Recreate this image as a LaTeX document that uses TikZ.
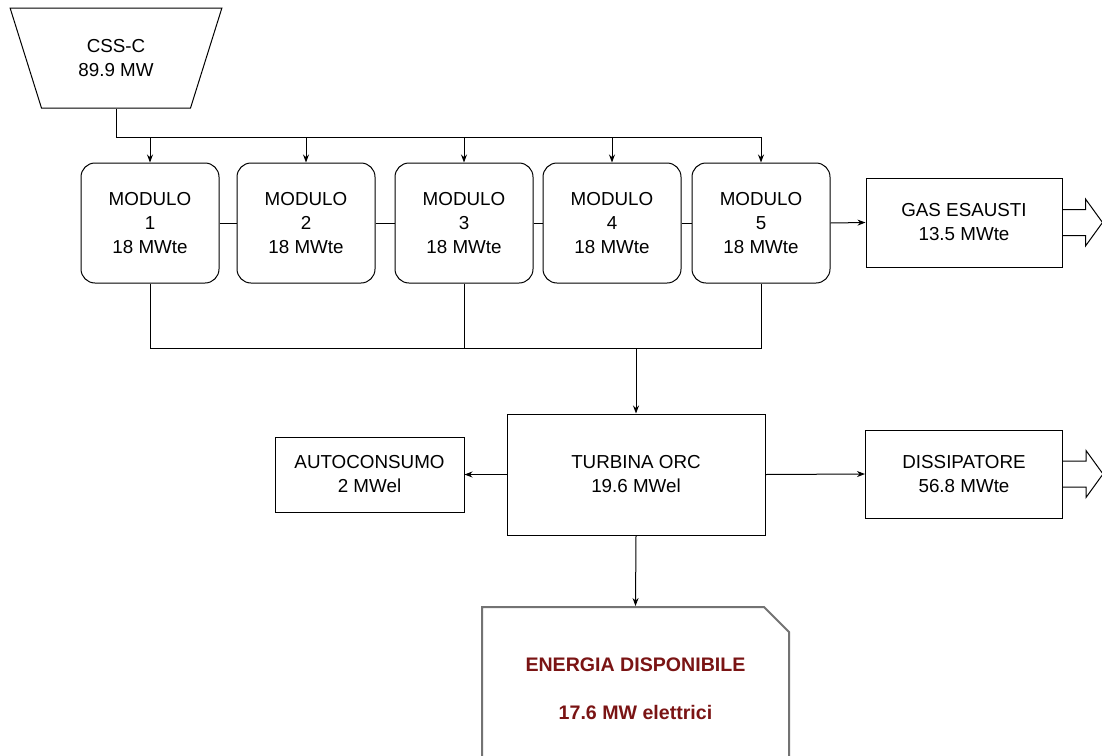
\documentclass[tikz,border=0pt]{standalone}
\usepackage{fontspec}
\setmainfont{Liberation Sans}
\usetikzlibrary{shapes.geometric,shapes.misc,arrows.meta,calc}
\definecolor{energy-red}{HTML}{7A1414}
\tikzset{
    module-box/.style = {draw, rectangle, rounded corners=7pt, minimum width=69pt, minimum height=60pt, align=center, inner sep=2pt},
    plain-box/.style = {draw, rectangle, align=center, inner sep=2pt},
    source-box/.style = {draw, trapezium, trapezium left angle=67, trapezium right angle=67, shape border rotate=180, trapezium stretches=true, minimum width=106pt, minimum height=50pt, align=center, inner sep=0pt},
    energy-box/.style = {draw=black!55, line width=1pt, chamfered rectangle, chamfered rectangle corners=north east, chamfered rectangle xsep=6.25pt, chamfered rectangle ysep=6.25pt, minimum width=153.5pt, minimum height=82pt, align=center, text=energy-red, font=\fontsize{9.8}{12}\selectfont\bfseries},
    flow/.style = {-{Stealth[length=4pt,width=3pt]}, line width=0.5pt},
    link/.style = {line width=0.5pt},
}

\begin{document}
\begin{tikzpicture}[x=0.5pt, y=-0.5pt, every node/.style={font=\fontsize{9.4}{12}\selectfont, line width=0.5pt}]
\useasboundingbox (0,0) rectangle (1102,755);

\node[source-box] (css) at (116,58) {CSS-C\\89.9 MW};
\foreach \i/\x in {1/150,2/306,3/464,4/612,5/761}
    \node[module-box] (m\i) at (\x,223) {MODULO\\\i\\18 MWte};
\node[plain-box, minimum width=98pt, minimum height=44.5pt] (gas) at (964,222.5) {GAS ESAUSTI\\13.5 MWte};
\node[plain-box, minimum width=129pt, minimum height=60.5pt] (orc) at (636,474.5) {TURBINA ORC\\19.6 MWel};
\node[plain-box, minimum width=94.5pt, minimum height=37.5pt] (auto) at (369.5,474.5) {AUTOCONSUMO\\2 MWel};
\node[plain-box, minimum width=98.5pt, minimum height=44pt] (diss) at (964,474) {DISSIPATORE\\56.8 MWte};
\node[energy-box] (energy) at (635.5,689) {ENERGIA DISPONIBILE\\[12pt]17.6 MW elettrici\hspace{6pt}};

% header line from the source to the modules
\coordinate (topbus) at (0,137);
\draw[link] (css.south) |- (topbus -| m5.north);
\foreach \i in {1,...,5}
    \draw[flow] (topbus -| m\i.north) -- (m\i.north);
\foreach \i/\j in {1/2,2/3,3/4,4/5}
    \draw[link] (m\i.east) -- (m\j.west);
\draw[flow] (m5.east) -- (gas.west);

% collector line to the turbine
\coordinate (botbus) at (0,348);
\draw[link] (m1.south) |- (botbus -| m5.south) -- (m5.south);
\draw[link] (m3.south) -- (botbus -| m3.south);
\draw[flow] (botbus -| orc.north) -- (orc.north);

\draw[flow] (orc.west) -- (auto.east);
\draw[flow] (orc.east) -- (diss.west);
\draw[flow] (orc.south) -- (energy.north);

% outgoing arrows
\foreach \n in {gas,diss}
    \draw[line width=0.5pt] ($(\n.east)+(0,-13)$) -- ++(23,0) -- ++(0,-10.5) -- ($(\n.east)+(40,0)$)
        -- ($(\n.east)+(23,23.5)$) -- ++(0,-10.5) -- ($(\n.east)+(0,13)$);
\end{tikzpicture}
\end{document}
